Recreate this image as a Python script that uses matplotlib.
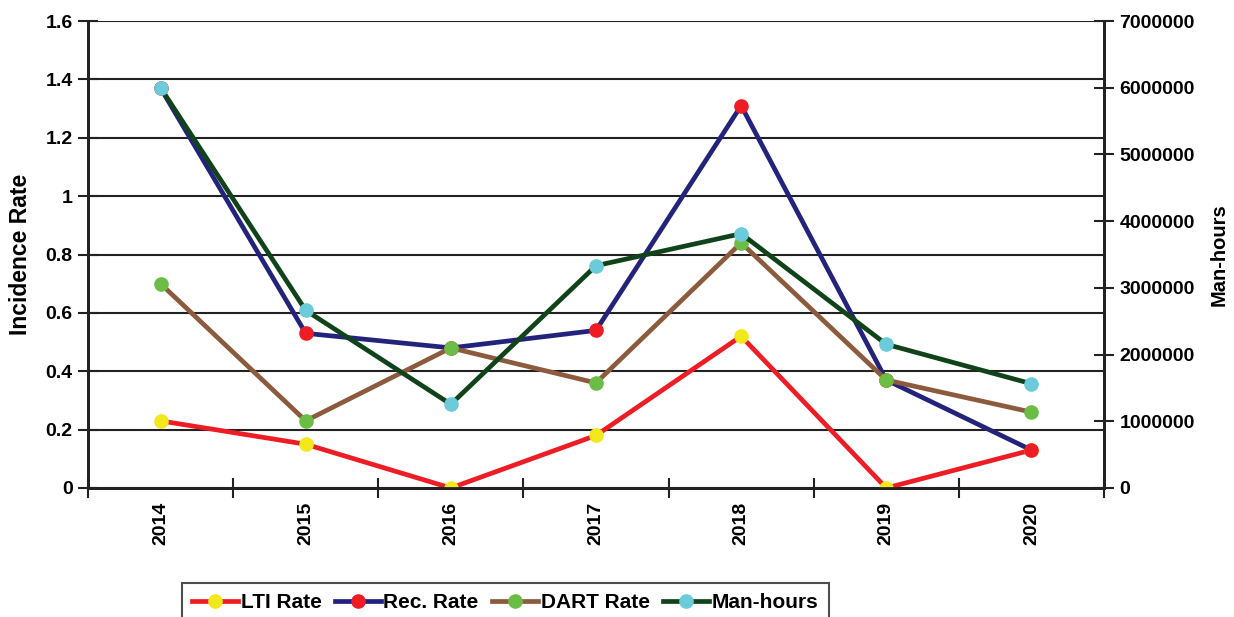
import matplotlib.pyplot as plt
import numpy as np

plt.rcParams['font.family'] = ['Liberation Sans', 'DejaVu Sans']
plt.rcParams['font.weight'] = 'bold'

years = ['2014', '2015', '2016', '2017', '2018', '2019', '2020']
lti_rate = [0.23, 0.15, 0.0, 0.18, 0.52, 0.0, 0.13]
rec_rate = [1.37, 0.53, 0.48, 0.54, 1.31, 0.37, 0.13]
dart_rate = [0.70, 0.23, 0.48, 0.36, 0.84, 0.37, 0.26]
man_hours = [6000000, 2663000, 1255000, 3332000, 3812000, 2154000, 1563000]

x = np.arange(len(years))

fig = plt.figure(figsize=(12.34, 6.17), dpi=100)
ax = fig.add_axes([88 / 1234, 1 - 488 / 617, (1104 - 88) / 1234, (488 - 21) / 617])
ax2 = ax.twinx()

lw = 3.4
ms = 9.5
ax.plot(x, lti_rate, color='#ee1c25', lw=lw, marker='o', ms=ms,
        mfc='#f2e81b', mec='#f2e81b', label='LTI Rate', zorder=3)
ax.plot(x, rec_rate, color='#23237b', lw=lw, marker='o', ms=ms,
        mfc='#ee1c25', mec='#ee1c25', label='Rec. Rate', zorder=4)
ax.plot(x, dart_rate, color='#8c5b3e', lw=lw, marker='o', ms=ms,
        mfc='#6bbd45', mec='#6bbd45', label='DART Rate', zorder=5)
ax2.plot(x, man_hours, color='#11431b', lw=lw, marker='o', ms=ms,
         mfc='#6ccbdb', mec='#6ccbdb', label='Man-hours', zorder=6)

ax.set_xlim(-0.5, len(years) - 0.5)
ax.set_ylim(0, 1.6)
ax2.set_ylim(0, 7000000)

ax.set_yticks(np.arange(0, 1.61, 0.2))
ax.set_yticklabels(['0', '0.2', '0.4', '0.6', '0.8', '1', '1.2', '1.4', '1.6'])
ax.yaxis.grid(True, color='#222222', lw=1.5)
ax.set_axisbelow(True)

ax.set_xticks(np.arange(-0.5, len(years) - 0.4, 1))
ax.set_xticklabels([])
ax.set_xticks(x, minor=True)
ax.set_xticklabels(years, minor=True, rotation=90, fontsize=14, fontweight='bold')
ax.tick_params(axis='x', which='minor', length=0, pad=10)
ax.tick_params(axis='x', which='major', direction='inout', length=14, width=1.5, color='#222222')
ax.tick_params(axis='y', direction='inout', length=14, width=1.5, color='#222222',
               labelsize=14, pad=4)

ax2.set_yticks(np.arange(0, 7000001, 1000000))
ax2.set_yticklabels([str(v) for v in range(0, 7000001, 1000000)])
ax2.tick_params(axis='y', direction='inout', length=14, width=1.5, color='#222222',
                labelsize=14, pad=4)

for a in (ax, ax2):
    a.spines['top'].set_visible(False)
    for s in ('left', 'right', 'bottom'):
        a.spines[s].set_linewidth(2)
        a.spines[s].set_color('#222222')

ax.set_ylabel('Incidence Rate', fontsize=16.5, fontweight='bold', labelpad=10)
ax2.set_ylabel('Man-hours', fontsize=14.5, fontweight='bold', labelpad=11)

h1, l1 = ax.get_legend_handles_labels()
h2, l2 = ax2.get_legend_handles_labels()
leg = fig.legend(h1 + h2, l1 + l2, loc='upper left',
                 bbox_to_anchor=(182 / 1234, 1 - 583 / 617), ncol=4,
                 frameon=True, fancybox=False, edgecolor='#222222',
                 prop={'size': 15, 'weight': 'bold'}, handlelength=2.2,
                 handletextpad=0.12, columnspacing=0.65, borderpad=0.5,
                 borderaxespad=0)
leg.get_frame().set_linewidth(1.5)

fig.savefig('out.png', dpi=100)
